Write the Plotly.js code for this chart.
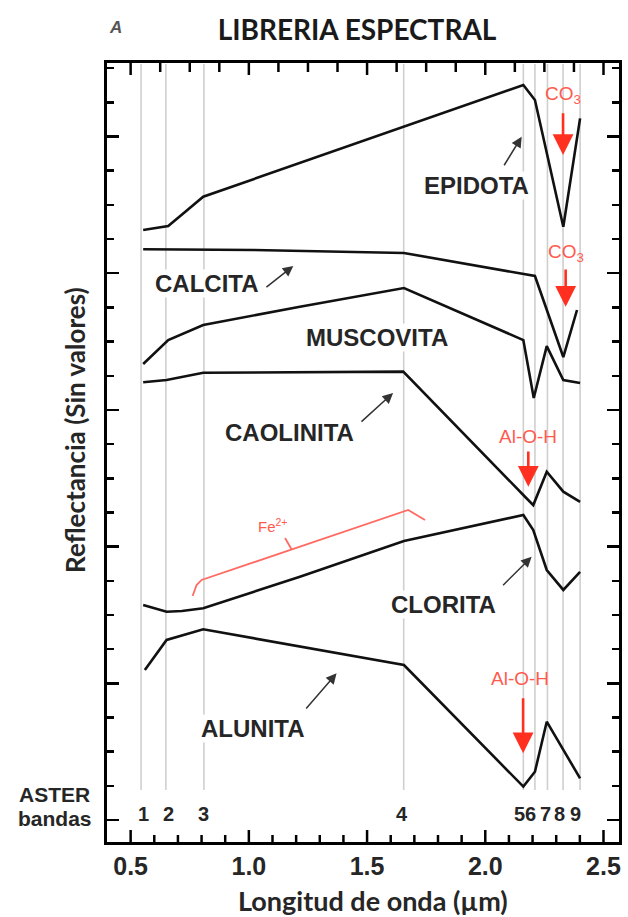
<!DOCTYPE html>
<html>
<head>
<meta charset="utf-8">
<script src="https://cdn.plot.ly/plotly-3.0.1.min.js"></script>
<style>html,body{margin:0;padding:0;background:#fff;}#chart{width:628px;height:917px;}</style>
</head>
<body>
<div id="chart"></div>
<script>
// ---- data (wavelength in µm, reflectance in arbitrary offset units) ----
const bandX = [0.544, 0.649, 0.810, 1.655, 2.161, 2.210, 2.263, 2.329, 2.401];
const bandNames = ['1','2','3','4','5','6','7','8','9'];

const epidotaX = [0.553, 0.659, 0.730, 0.807, 2.161, 2.210, 2.330, 2.401];
const epidotaY = [4.316, 4.345, 4.448, 4.560, 5.377, 5.267, 4.340, 5.133];

const calcitaX = [0.553, 1.019, 1.656, 2.161, 2.210, 2.330, 2.388];
const calcitaY = [4.175, 4.170, 4.148, 3.994, 3.980, 3.387, 3.731];

const muscovitaX = [0.553, 0.659, 0.807, 1.216, 1.656, 2.161, 2.205, 2.260, 2.330, 2.401];
const muscovitaY = [3.336, 3.511, 3.621, 3.755, 3.892, 3.511, 3.087, 3.467, 3.219, 3.197];

const caolinitaX = [0.553, 0.652, 0.807, 1.653, 2.168, 2.203, 2.260, 2.330, 2.401];
const caolinitaY = [3.202, 3.219, 3.272, 3.280, 2.365, 2.304, 2.548, 2.402, 2.328];

const cloritaX = [0.553, 0.652, 0.717, 0.807, 1.216, 1.656, 2.161, 2.203, 2.260, 2.330, 2.401];
const cloritaY = [1.573, 1.524, 1.529, 1.549, 1.780, 2.041, 2.231, 2.121, 1.829, 1.683, 1.816];

const alunitaX = [0.560, 0.652, 0.807, 1.656, 2.161, 2.210, 2.260, 2.401];
const alunitaY = [1.097, 1.317, 1.395, 1.134, 0.244, 0.353, 0.719, 0.305];

const fe2BracketX = [0.762, 0.779, 0.800, 1.674, 1.745];
const fe2BracketY = [1.639, 1.719, 1.756, 2.268, 2.195];
const fe2TickX = [1.181, 1.153];
const fe2TickY = [1.979, 2.063];

// ---- configuration ----
const X_RANGE = [0.400, 2.5656];
const Y_RANGE = [-0.161, 5.538];
const BAND_TOP = 5.53, BAND_BOTTOM = 0.22;
const ARIAL = 'Liberation Sans, Arial, sans-serif';
const CAL = 'Lato, Liberation Sans, sans-serif';
const INK = '#262626';
const RED_TXT = '#ff5a4e';
const RED_ARW = '#ff3020';
const PLOT_H = 917 - 63 - 75;
const PX_PER_Y = PLOT_H / (Y_RANGE[1] - Y_RANGE[0]);

const traces = [];
const bx = [], by = [];
bandX.forEach(b => { bx.push(b, b, null); by.push(BAND_TOP, BAND_BOTTOM, null); });
traces.push({x: bx, y: by, mode: 'lines', line: {color: '#cfcfcf', width: 1.6}, hoverinfo: 'skip', showlegend: false});

// frame tick marks of the wavelength axis (bottom every 0.1 µm, top every 0.125 µm; longer at 0.5 µm)
const tx = [], ty = [];
for (let k = 0; k <= 20; k++) {
  const v = 0.5 + k * 0.1;
  const len = ((k % 5 === 0) ? 12 : 7) / PX_PER_Y;
  tx.push(v, v, null); ty.push(Y_RANGE[0], Y_RANGE[0] + len, null);
}
for (let k = 0; k <= 16; k++) {
  const v = 0.5 + k * 0.125;
  const len = ((k % 4 === 0) ? 12 : 9) / PX_PER_Y;
  tx.push(v, v, null); ty.push(Y_RANGE[1], Y_RANGE[1] - len, null);
}
traces.push({x: tx, y: ty, mode: 'lines', line: {color: '#000', width: 2.5}, hoverinfo: 'skip', showlegend: false, cliponaxis: false});

function spec(x, y) {
  return {x: x, y: y, mode: 'lines', line: {color: '#111', width: 2.6}, showlegend: false};
}
traces.push(spec(epidotaX, epidotaY));
traces.push(spec(calcitaX, calcitaY));
traces.push(spec(muscovitaX, muscovitaY));
traces.push(spec(caolinitaX, caolinitaY));
traces.push(spec(cloritaX, cloritaY));
traces.push(spec(alunitaX, alunitaY));
traces.push({x: fe2BracketX, y: fe2BracketY, mode: 'lines', line: {color: '#ff6b63', width: 1.8}, showlegend: false});
traces.push({x: fe2TickX, y: fe2TickY, mode: 'lines', line: {color: '#ff6b63', width: 1.8}, showlegend: false});

const ann = [];
function label(text, x, y) {
  ann.push({text: text, x: x, y: y, xref: 'x', yref: 'y', showarrow: false, xanchor: 'center', yanchor: 'middle',
    font: {family: ARIAL, size: 24, color: INK, weight: 'bold'}, bgcolor: 'rgba(255,255,255,0.95)', borderpad: 0});
}
function arrow(tx0, ty0, hx, hy) {
  ann.push({text: '', x: hx, y: hy, ax: tx0, ay: ty0, xref: 'x', yref: 'y', axref: 'x', ayref: 'y',
    showarrow: true, arrowhead: 2, arrowsize: 1.4, arrowwidth: 1.5, arrowcolor: '#333'});
}
function redArrow(x, ty0, hy) {
  ann.push({text: '', x: x, y: hy, ax: x, ay: ty0, xref: 'x', yref: 'y', axref: 'x', ayref: 'y',
    showarrow: true, arrowhead: 2, arrowsize: 1.6, arrowwidth: 2.6, arrowcolor: RED_ARW});
}
function redText(text, x, y, size) {
  ann.push({text: text, x: x, y: y, xref: 'x', yref: 'y', showarrow: false, xanchor: 'center', yanchor: 'middle',
    font: {family: ARIAL, size: size, color: RED_TXT}});
}
label('EPIDOTA', 1.961, 4.645);
label('CALCITA', 0.825, 3.928);
label('MUSCOVITA', 1.542, 3.533);
label('CAOLINITA', 1.170, 2.838);
label('CLORITA', 1.825, 1.573);
label('ALUNITA', 1.019, 0.673);
arrow(2.076, 4.779, 2.154, 4.999);
arrow(1.068, 3.890, 1.188, 4.053);
arrow(1.470, 2.904, 1.610, 3.124);
arrow(2.069, 1.707, 2.196, 1.926);
arrow(1.237, 0.805, 1.371, 1.073);
redText('CO<sub>3</sub>', 2.329, 5.304, 19);
redArrow(2.329, 5.181, 4.865);
redText('CO<sub>3</sub>', 2.340, 4.146, 19);
redArrow(2.340, 4.038, 3.755);
redText('Al-O-H', 2.182, 2.804, 19);
redArrow(2.182, 2.707, 2.438);
redText('Al-O-H', 2.147, 1.037, 19);
redArrow(2.160, 0.902, 0.488);
redText('Fe<sup>2+</sup>', 1.103, 2.151, 15);
const bandLabelX = [0.553, 0.659, 0.807, 1.649, 2.146, 2.192, 2.253, 2.316, 2.382];
bandNames.forEach((n, i) => {
  ann.push({text: n, x: bandLabelX[i], y: 0.044, xref: 'x', yref: 'y', showarrow: false, xanchor: 'center', yanchor: 'middle',
    font: {family: ARIAL, size: 20, color: INK, weight: 'bold'}});
});
function paperText(text, x, y, font, extra) {
  ann.push(Object.assign({text: text, x: x, y: y, xref: 'paper', yref: 'paper', showarrow: false,
    xanchor: 'center', yanchor: 'middle', font: font}, extra || {}));
}
paperText('ASTER', -0.1016, 0.0616, {family: ARIAL, size: 21, color: INK, weight: 'bold'});
paperText('bandas', -0.1016, 0.0308, {family: ARIAL, size: 21, color: INK, weight: 'bold'});
paperText('<i>A</i>', 0.0175, 1.045, {family: ARIAL, size: 17, color: '#555', weight: 'bold'});
paperText('Reflectancia (Sin valores)', -0.0625, 0.529, {family: CAL, size: 26, color: INK, weight: 'bold'}, {textangle: -90});
paperText('Longitud de onda (µm)', 0.5195, -0.0745, {family: CAL, size: 27, color: INK, weight: 'bold'});

const layout = {
  width: 628, height: 917,
  margin: {l: 107, r: 9, t: 63, b: 75},
  paper_bgcolor: '#fff', plot_bgcolor: 'rgba(0,0,0,0)',
  showlegend: false,
  title: {text: 'LIBRERIA ESPECTRAL', x: 0.5685, xref: 'container', xanchor: 'center',
    y: 0.967, yanchor: 'middle', font: {family: CAL, size: 28, color: '#1a1a1a', weight: 'bold'}},
  xaxis: {range: X_RANGE, showgrid: false, zeroline: false, showline: true, linewidth: 3, linecolor: '#000',
    mirror: true, tickmode: 'linear', tick0: 0.5, dtick: 0.5, tickformat: '.1f', ticks: '',
    tickfont: {family: ARIAL, size: 25, color: INK, weight: 'bold'}},
  yaxis: {range: Y_RANGE, showgrid: false, zeroline: false, showline: true, linewidth: 3, linecolor: '#000',
    mirror: 'ticks', ticks: 'inside', ticklen: 12, tickwidth: 2.5, tickcolor: '#000', tickmode: 'linear', dtick: 1, tick0: 0,
    showticklabels: false,
    minor: {dtick: 0.25, ticks: 'inside', ticklen: 7, tickwidth: 2.5, tickcolor: '#000'}},
  annotations: ann
};

Plotly.newPlot('chart', traces, layout, {staticPlot: true});
</script>
</body>
</html>
